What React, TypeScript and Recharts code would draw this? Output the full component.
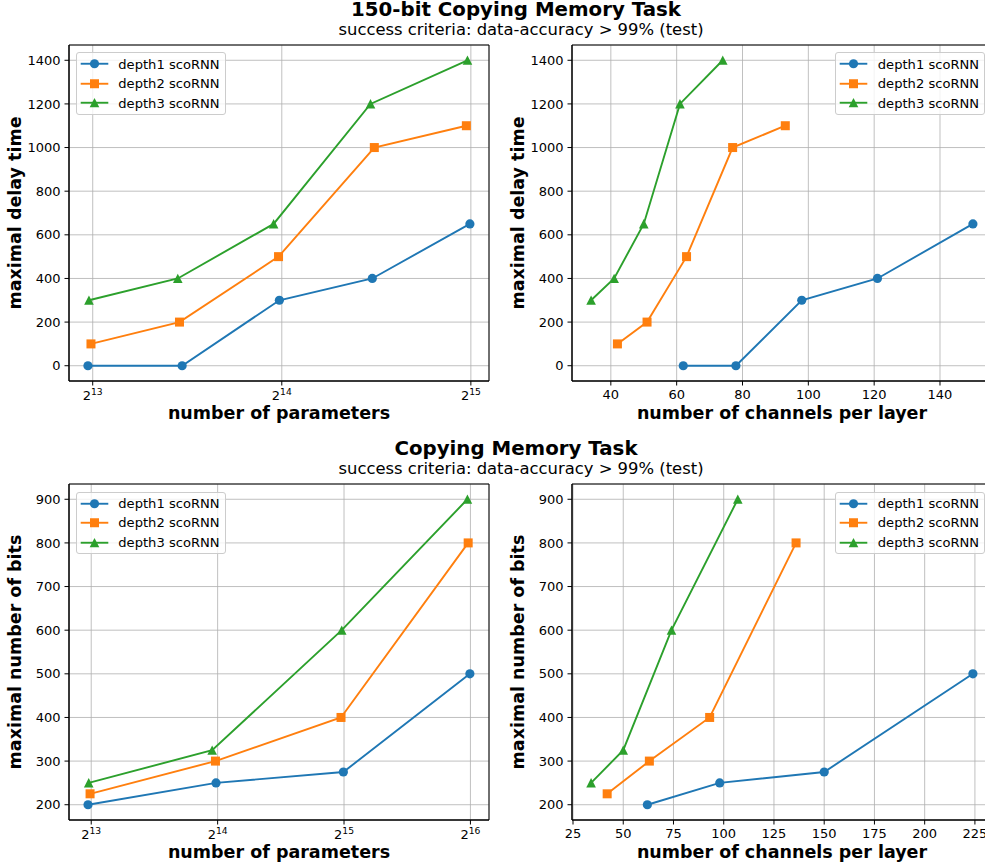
import React from 'react';
import { LineChart, Line, XAxis, YAxis, CartesianGrid, Legend, ReferenceArea } from 'recharts';

const seriesNames = ['depth1 scoRNN', 'depth2 scoRNN', 'depth3 scoRNN'];
const seriesColors = ['#1f77b4', '#ff7f0e', '#2ca02c'];
const seriesMarkers = ['circle', 'square', 'triangle'];

// 150-bit copying task: maximal delay time
const d1DelayChannels = [62, 78, 98, 121, 150];
const d1DelayParams = [8050, 11370, 16240, 22830, 32650];
const d1Delay = [0, 0, 300, 400, 650];
const d2DelayChannels = [42, 51, 63, 77, 93];
const d2DelayParams = [8140, 11260, 16190, 23000, 32230];
const d2Delay = [100, 200, 500, 1000, 1100];
const d3DelayChannels = [34, 41, 50, 61, 74];
const d3DelayParams = [8080, 11190, 15900, 22680, 32360];
const d3Delay = [300, 400, 650, 1200, 1400];

// copying task: maximal number of bits
const d1BitsChannels = [62, 98, 150, 224];
const d1BitsParams = [8050, 16240, 32650, 65340];
const d1Bits = [200, 250, 275, 500];
const d2BitsChannels = [42, 63, 93, 136];
const d2BitsParams = [8140, 16190, 32230, 64730];
const d2Bits = [225, 300, 400, 800];
const d3BitsChannels = [34, 50, 74, 107];
const d3BitsParams = [8080, 15900, 32360, 64460];
const d3Bits = [250, 325, 600, 900];

// axes
const delayTicks = [0, 200, 400, 600, 800, 1000, 1200, 1400];
const bitsTicks = [200, 300, 400, 500, 600, 700, 800, 900];
const paramTicksTop = [8192, 16384, 32768];
const paramTicksBottom = [8192, 16384, 32768, 65536];
const channelTicksTop = [40, 60, 80, 100, 120, 140];
const channelTicksBottom = [25, 50, 75, 100, 125, 150, 175, 200, 225];

const delayDomain = [-70, 1470];
const bitsDomain = [165, 935];
const paramDomainTop = [7510, 35020];
const paramDomainBottom = [7252, 72560];
const channelDomainTop = [28.2, 155.8];
const channelDomainBottom = [24.5, 233.5];

type Pt = { x: number; y: number };
const zip = (xs: number[], ys: number[]): Pt[] => xs.map((x, i) => ({ x, y: ys[i] }));

const FONT = '"DejaVu Sans", sans-serif';

function MarkerShape({ kind, cx, cy, color }: { kind: string; cx: number; cy: number; color: string }) {
  if (kind === 'square') return <rect x={cx - 4.5} y={cy - 4.5} width={9} height={9} fill={color} />;
  if (kind === 'triangle')
    return <polygon points={`${cx},${cy - 4.8} ${cx - 4.8},${cy + 4.5} ${cx + 4.8},${cy + 4.5}`} fill={color} />;
  return <circle cx={cx} cy={cy} r={4.6} fill={color} />;
}

const PowerTick = ({ x, y, payload }: any) => (
  <text x={x} y={y} textAnchor="middle" fill="#000" fontSize={13} fontFamily={FONT}>
    <tspan dy={10.5}>2</tspan>
    <tspan fontSize={9.2} dy={-5.5}>{Math.round(Math.log2(payload.value))}</tspan>
  </text>
);

const LegendBox = () => (
  <div
    style={{
      width: 148,
      border: '1px solid #cccccc',
      borderRadius: 3,
      background: 'rgba(255,255,255,0.8)',
      padding: '1px 0',
      fontSize: 13.1,
      fontFamily: FONT,
      color: '#000',
    }}
  >
    {seriesNames.map((name, i) => (
      <div key={name} style={{ display: 'flex', alignItems: 'center', height: 19.5 }}>
        <svg width={36} height={19.5} style={{ display: 'block' }}>
          <line x1={3.7} x2={31.3} y1={9.75} y2={9.75} stroke={seriesColors[i]} strokeWidth={1.9} />
          <MarkerShape kind={seriesMarkers[i]} cx={17.5} cy={9.75} color={seriesColors[i]} />
        </svg>
        <span style={{ marginLeft: 5.3, whiteSpace: 'nowrap' }}>{name}</span>
      </div>
    ))}
  </div>
);

interface PanelProps {
  left: number;
  top: number;
  series: Pt[][];
  logX: boolean;
  xDomain: number[];
  xTicks: number[];
  yDomain: number[];
  yTicks: number[];
  xLabel: string;
  yLabel: string;
  legendLeft: number;
}

const Panel: React.FC<PanelProps> = ({ left, top, series, logX, xDomain, xTicks, yDomain, yTicks, xLabel, yLabel, legendLeft }) => (
  <div style={{ position: 'absolute', left, top }}>
    <LineChart width={509} height={396} margin={{ top: 10, right: 20, bottom: 0, left: 0 }}>
      <CartesianGrid stroke="#b0b0b0" strokeWidth={0.8} />
      <XAxis
        type="number"
        dataKey="x"
        scale={logX ? 'log' : 'linear'}
        domain={xDomain}
        ticks={xTicks}
        allowDataOverflow
        height={50}
        stroke="#000"
        tickSize={4.5}
        tickMargin={4}
        tick={logX ? <PowerTick /> : { fill: '#000', fontSize: 13 }}
        label={{ value: xLabel, position: 'insideBottom', offset: 12, style: { fontWeight: 'bold', fontSize: 17.5, fill: '#000' } }}
      />
      <YAxis
        type="number"
        dataKey="y"
        domain={yDomain}
        ticks={yTicks}
        allowDataOverflow
        width={69}
        stroke="#000"
        tickSize={4.5}
        tickMargin={4}
        tick={{ fill: '#000', fontSize: 13 }}
        label={{
          value: yLabel,
          angle: -90,
          position: 'insideLeft',
          offset: 14.8,
          style: { textAnchor: 'middle', fontWeight: 'bold', fontSize: 17.5, fill: '#000' },
        }}
      />
      {series.map((pts, i) => (
        <Line
          key={seriesNames[i]}
          name={seriesNames[i]}
          data={pts}
          dataKey="y"
          type="linear"
          stroke={seriesColors[i]}
          strokeWidth={1.9}
          isAnimationActive={false}
          dot={(p: any) => (
            <MarkerShape key={p.index} kind={seriesMarkers[i]} cx={p.cx} cy={p.cy} color={seriesColors[i]} />
          )}
          activeDot={false}
        />
      ))}
      <ReferenceArea
        x1={xDomain[0]}
        x2={xDomain[1]}
        y1={yDomain[0]}
        y2={yDomain[1]}
        fill="none"
        stroke="#000"
        strokeWidth={1}
        ifOverflow="visible"
      />
      <Legend
        layout="vertical"
        align="center"
        verticalAlign="middle"
        content={() => <LegendBox />}
        wrapperStyle={{ left: legendLeft, top: 17.3, width: 'auto', height: 'auto' }}
      />
    </LineChart>
  </div>
);

const Heading = ({ text, cx, top, size, bold }: { text: string; cx: number; top: number; size: number; bold?: boolean }) => (
  <div
    style={{
      position: 'absolute',
      left: cx - 300,
      width: 600,
      top,
      textAlign: 'center',
      fontSize: size,
      lineHeight: `${size}px`,
      fontWeight: bold ? 'bold' : 'normal',
      whiteSpace: 'nowrap',
    }}
  >
    {text}
  </div>
);

export default function App() {
  const subtitle = 'success criteria: data-accuracy > 99% (test)';
  return (
    <div
      style={{
        position: 'absolute',
        left: 0,
        top: 0,
        width: 985,
        height: 868,
        overflow: 'hidden',
        background: '#fff',
        fontFamily: FONT,
        color: '#000',
      }}
    >
      <Heading text="150-bit Copying Memory Task" cx={516} top={0} size={19.8} bold />
      <Heading text={subtitle} cx={521} top={21.7} size={16.4} />
      <Heading text="Copying Memory Task" cx={516} top={438.9} size={19.8} bold />
      <Heading text={subtitle} cx={521} top={460.7} size={16.4} />

      <Panel
        left={0}
        top={35}
        series={[zip(d1DelayParams, d1Delay), zip(d2DelayParams, d2Delay), zip(d3DelayParams, d3Delay)]}
        logX
        xDomain={paramDomainTop}
        xTicks={paramTicksTop}
        yDomain={delayDomain}
        yTicks={delayTicks}
        xLabel="number of parameters"
        yLabel="maximal delay time"
        legendLeft={76}
      />
      <Panel
        left={503.3}
        top={35}
        series={[zip(d1DelayChannels, d1Delay), zip(d2DelayChannels, d2Delay), zip(d3DelayChannels, d3Delay)]}
        logX={false}
        xDomain={channelDomainTop}
        xTicks={channelTicksTop}
        yDomain={delayDomain}
        yTicks={delayTicks}
        xLabel="number of channels per layer"
        yLabel="maximal delay time"
        legendLeft={332.2}
      />
      <Panel
        left={0}
        top={474.3}
        series={[zip(d1BitsParams, d1Bits), zip(d2BitsParams, d2Bits), zip(d3BitsParams, d3Bits)]}
        logX
        xDomain={paramDomainBottom}
        xTicks={paramTicksBottom}
        yDomain={bitsDomain}
        yTicks={bitsTicks}
        xLabel="number of parameters"
        yLabel="maximal number of bits"
        legendLeft={76}
      />
      <Panel
        left={503.3}
        top={474.3}
        series={[zip(d1BitsChannels, d1Bits), zip(d2BitsChannels, d2Bits), zip(d3BitsChannels, d3Bits)]}
        logX={false}
        xDomain={channelDomainBottom}
        xTicks={channelTicksBottom}
        yDomain={bitsDomain}
        yTicks={bitsTicks}
        xLabel="number of channels per layer"
        yLabel="maximal number of bits"
        legendLeft={332.2}
      />
    </div>
  );
}
